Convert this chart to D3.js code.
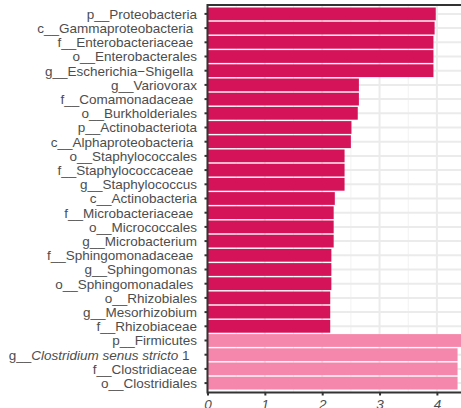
<!DOCTYPE html>
<html>
<head>
<meta charset="utf-8">
<script src="https://cdn.jsdelivr.net/npm/d3@7"></script>
<style>
  html, body { margin: 0; padding: 0; background: #fff; }
  svg { display: block; font-family: "Liberation Sans", Arial, sans-serif; }
  .lab { white-space: pre; }
</style>
</head>
<body>
<svg id="chart" width="461" height="408"></svg>
<script>
// Taxa, top to bottom (trailing spaces are part of the labels)
const taxa = [
  "p__Proteobacteria", "c__Gammaproteobacteria ", "f__Enterobacteriaceae ",
  "o__Enterobacterales", "g__Escherichia\u2212Shigella ", "g__Variovorax",
  "f__Comamonadaceae ", "o__Burkholderiales", "p__Actinobacteriota",
  "c__Alphaproteobacteria ", "o__Staphylococcales", "f__Staphylococcaceae ",
  "g__Staphylococcus", "c__Actinobacteria", "f__Microbacteriaceae ",
  "o__Micrococcales", "g__Microbacterium", "f__Sphingomonadaceae ",
  "g__Sphingomonas", "o__Sphingomonadales ", "o__Rhizobiales",
  "g__Mesorhizobium", "f__Rhizobiaceae", "p__Firmicutes",
  "g__Clostridium senus stricto 1  ", "f__Clostridiaceae", "o__Clostridiales"
];
// LDA scores
const scores = [
  3.98, 3.96, 3.94, 3.94, 3.94, 2.64, 2.64, 2.62, 2.51, 2.50,
  2.39, 2.39, 2.39, 2.22, 2.20, 2.20, 2.20, 2.16, 2.16, 2.16,
  2.14, 2.14, 2.14, 4.44, 4.36, 4.36, 4.36
];
// Enriched group of each taxon
const groups = [
  "A","A","A","A","A","A","A","A","A","A","A","A","A","A","A","A","A","A","A","A","A","A","A",
  "B","B","B","B"
];
const groupNames = ["A", "B"];
const groupColors = ["#D51359", "#F487AB"];
const xTicks = [0, 1, 2, 3, 4];
const xMinor = [0.5, 1.5, 2.5, 3.5, 4.5];

const svg = d3.select("#chart");
const W = 461;
const panelLeft = 207.5, panelTop = 5, panelBottom = 392.5;

const x = d3.scaleLinear().domain([0, 4.5]).range([panelLeft, panelLeft + 4.5 * 57.35]);
const y = d3.scaleBand().domain(taxa).range([6.8, 390.2]).paddingInner(0.1).paddingOuter(0.05);
const color = d3.scaleOrdinal().domain(groupNames).range(groupColors);

const panel = svg.append("g");
// grid
panel.selectAll("line.minor").data(xMinor).join("line")
  .attr("x1", d => x(d)).attr("x2", d => x(d))
  .attr("y1", panelTop).attr("y2", panelBottom)
  .attr("stroke", "#F2F2F2").attr("stroke-width", 1);
panel.selectAll("line.major").data(xTicks).join("line")
  .attr("x1", d => x(d)).attr("x2", d => x(d))
  .attr("y1", panelTop).attr("y2", panelBottom)
  .attr("stroke", "#EBEBEB").attr("stroke-width", 2);
panel.selectAll("line.hgrid").data(taxa).join("line")
  .attr("x1", panelLeft).attr("x2", W)
  .attr("y1", d => y(d) + y.bandwidth() / 2).attr("y2", d => y(d) + y.bandwidth() / 2)
  .attr("stroke", "#EBEBEB").attr("stroke-width", 2);

// bars
panel.selectAll("rect.bar").data(taxa).join("rect")
  .attr("x", x(0))
  .attr("y", d => y(d))
  .attr("width", (d, i) => x(scores[i]) - x(0))
  .attr("height", y.bandwidth())
  .attr("fill", (d, i) => color(groups[i]));

// frame
svg.append("path")
  .attr("d", `M${W},${panelTop}H${panelLeft}V${panelBottom}H${W}`)
  .attr("fill", "none").attr("stroke", "#333").attr("stroke-width", 2);

// y axis
const yAxis = svg.append("g").attr("transform", `translate(${panelLeft},0)`)
  .call(d3.axisLeft(y).tickSize(3).tickFormat(""));
yAxis.select(".domain").remove();
yAxis.selectAll(".tick line").attr("stroke", "#333").attr("stroke-width", 2);

const labels = svg.append("g").attr("fill", "#4D4D4D").attr("font-size", "13.5px");
taxa.forEach((t, i) => {
  const txt = labels.append("text").attr("class", "lab")
    .attr("x", 197).attr("y", y(t) + y.bandwidth() / 2)
    .attr("dy", "0.36em").attr("text-anchor", "end");
  const m = t.match(/^g__Clostridium senus stricto (1\s*)$/);
  if (m) {
    txt.append("tspan").text("g__");
    txt.append("tspan").attr("font-style", "italic").text("Clostridium senus stricto");
    txt.append("tspan").text(" " + m[1]);
  } else {
    txt.text(t);
  }
});

// x axis
const xAxis = svg.append("g").attr("transform", `translate(0,${panelBottom})`)
  .call(d3.axisBottom(x).tickValues(xTicks).tickSize(3).tickPadding(4).tickFormat(d3.format("d")));
xAxis.select(".domain").remove();
xAxis.selectAll(".tick line").attr("stroke", "#333").attr("stroke-width", 2);
xAxis.selectAll(".tick text")
  .attr("fill", "#4D4D4D").attr("font-size", "13.5px").attr("font-style", "italic")
  .attr("font-family", "Liberation Sans, Arial, sans-serif");
</script>
</body>
</html>
